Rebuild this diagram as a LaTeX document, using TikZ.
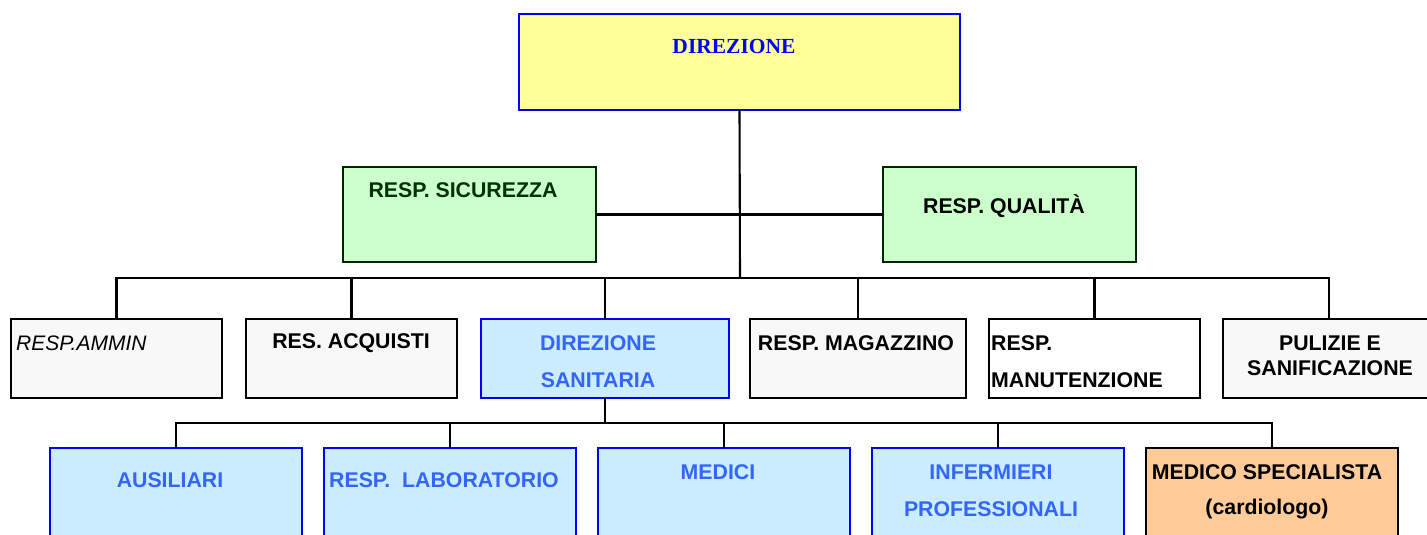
\documentclass[tikz,border=0pt]{standalone}
\usepackage{fontspec}
\setmainfont{Liberation Sans}
\newfontfamily\timesfont{Liberation Serif}
\definecolor{yel}{RGB}{255,255,153}
\definecolor{grn}{RGB}{204,255,204}
\definecolor{dgrn}{RGB}{0,51,0}
\definecolor{lgray}{RGB}{248,248,248}
\definecolor{lblue}{RGB}{204,236,255}
\definecolor{tblue}{RGB}{51,102,255}
\definecolor{orng}{RGB}{255,204,153}
\begin{document}
\begin{tikzpicture}[x=1pt,y=-1pt,
  box/.style={draw=black,line width=2pt,inner sep=0pt,outer sep=0pt,anchor=north west},
  bluebox/.style={box,draw=blue,fill=lblue},
  graybox/.style={box,fill=lgray},
  greenbox/.style={box,draw=black!85!green,fill=grn},
  lbl/.style={inner sep=0pt,font=\fontsize{21.3}{24}\selectfont\bfseries},
  blbl/.style={lbl,text=tblue},
  conn/.style={line width=2.1pt}]
\useasboundingbox (0,0) rectangle (1427,535);
\clip (0,0) rectangle (1427,535);
% top
\node[box,draw=blue,fill=yel,minimum width=441,minimum height=96] (dir) at (519,14) {};
\node[inner sep=0pt,text=blue,font=\timesfont\fontsize{21.5}{24}\selectfont\bfseries] (tdir) at (734,46) {DIREZIONE};
% green
\node[greenbox,minimum width=253,minimum height=95] (sic) at (343,167) {};
\node[greenbox,minimum width=253,minimum height=95] (qual) at (883,167) {};
\node[lbl,text=dgrn] (tsic) at (463,190) {RESP. SICUREZZA};
\node[lbl] (tqual) at (1004,206) {RESP. QUALITÀ};
% row 2
\node[graybox,minimum width=211,minimum height=79] (ammin) at (11,319) {};
\node[graybox,minimum width=211,minimum height=79] (acq) at (246,319) {};
\node[bluebox,minimum width=248,minimum height=79] (dirsan) at (481,319) {};
\node[graybox,minimum width=216,minimum height=79] (mag) at (750,319) {};
\node[box,fill=white,minimum width=211,minimum height=79] (man) at (989,319) {};
\node[graybox,minimum width=212,minimum height=79] (pul) at (1223,319) {};
\node[inner sep=0pt,anchor=west,font=\fontsize{21}{24}\selectfont\itshape] (tammin) at (16,343) {RESP.AMMIN};
\node[lbl] (tacq) at (351,343) {RES. ACQUISTI};
\node[blbl] (tdirsan1) at (598,343) {DIREZIONE};
\node[blbl] (tdirsan2) at (598,380) {SANITARIA};
\node[lbl] (tmag) at (856,343) {RESP. MAGAZZINO};
\node[lbl,anchor=west] (tman1) at (991,343) {RESP.};
\node[lbl,anchor=west] (tman2) at (991,380) {MANUTENZIONE};
\node[lbl] (tpul1) at (1330,343) {PULIZIE E};
\node[lbl] (tpul2) at (1330,368) {SANIFICAZIONE};
% row 3
\node[bluebox,minimum width=252,minimum height=100] (aus) at (50,448) {};
\node[bluebox,minimum width=252,minimum height=100] (lab) at (324,448) {};
\node[bluebox,minimum width=252,minimum height=100] (med) at (598,448) {};
\node[bluebox,minimum width=252,minimum height=100] (inf) at (872,448) {};
\node[box,fill=orng,minimum width=252,minimum height=100] (spec) at (1146,448) {};
\node[blbl] (taus) at (170,480) {AUSILIARI};
\node[blbl] (tlab) at (444,480) {RESP.\ \ LABORATORIO};
\node[blbl] (tmed) at (718,472) {MEDICI};
\node[blbl] (tinf1) at (991,472) {INFERMIERI};
\node[blbl] (tinf2) at (991,509) {PROFESSIONALI};
\node[lbl] (tspec1) at (1267,472) {MEDICO SPECIALISTA};
\node[lbl] (tspec2) at (1267,509) {(cardiologo)};
% connectors
\coordinate (bus1) at (740,278);
\coordinate (bus2) at (605,423);
\draw[conn] (dir.south) -- (bus1);
\draw[conn] (sic.east) -- (qual.west);
\draw[conn] (ammin.north) -- (ammin.north |- bus1) -| (pul.north);
\foreach \n in {acq,dirsan,mag,man}{\draw[conn] (\n.north) -- (\n.north |- bus1);}
\draw[conn] (dirsan.south) -- (bus2);
\draw[conn] (aus.north) -- (aus.north |- bus2) -| (spec.north);
\foreach \n in {lab,med,inf}{\draw[conn] (\n.north) -- (\n.north |- bus2);}
\end{tikzpicture}
\end{document}
